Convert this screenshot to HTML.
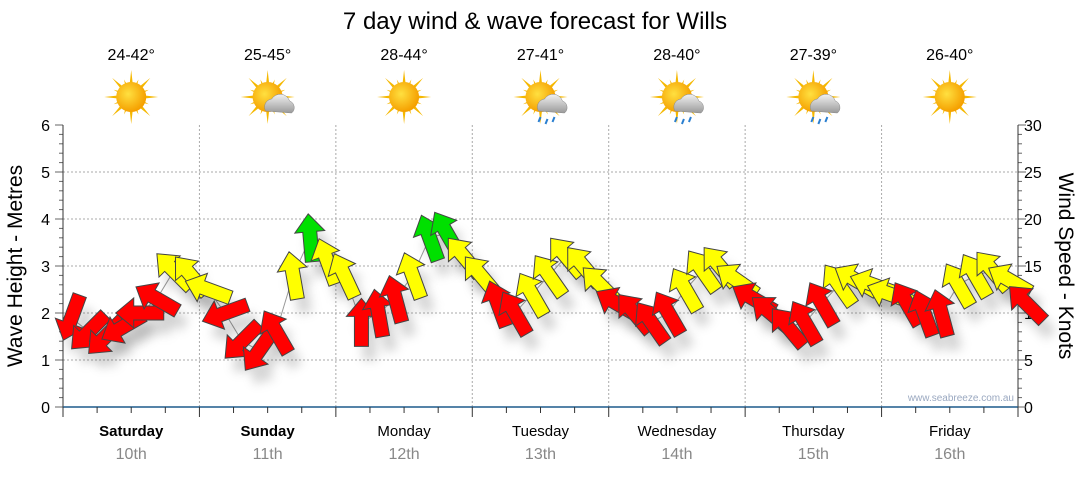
<!DOCTYPE html>
<html><head><meta charset="utf-8"><style>
body{margin:0;background:#fff;font-family:"Liberation Sans","DejaVu Sans",sans-serif;}
svg text{font-family:"Liberation Sans","DejaVu Sans",sans-serif;}
</style></head><body>
<svg id="chart" width="1080" height="475" viewBox="0 0 1080 475" xmlns="http://www.w3.org/2000/svg">
<defs>
<filter id="blur" x="-50%" y="-50%" width="200%" height="200%"><feGaussianBlur stdDeviation="5"/></filter>
<radialGradient id="sunG" cx="0.4" cy="0.4" r="0.6"><stop offset="0" stop-color="#ffe040"/><stop offset="1" stop-color="#f5a000"/></radialGradient>
<linearGradient id="cloudG" x1="0" y1="0" x2="0" y2="1"><stop offset="0" stop-color="#f2f2f2"/><stop offset="1" stop-color="#9a9a9a"/></linearGradient>
</defs>
<text x="535" y="29" font-size="24" text-anchor="middle" fill="#000">7 day wind &amp; wave forecast for Wills</text>
<g id="grid"></g>
<g id="icons"></g>
<g id="axes"></g>
<g id="marks"></g>
<text transform="translate(22,266) rotate(-90)" font-size="21" text-anchor="middle">Wave Height - Metres</text>
<text transform="translate(1059,266) rotate(90)" font-size="21" text-anchor="middle">Wind Speed - Knots</text>
<text x="1014" y="401" font-size="10" text-anchor="end" fill="#9aa8c0">www.seabreeze.com.au</text>
</svg>
<script>
const dayNames=["Saturday","Sunday","Monday","Tuesday","Wednesday","Thursday","Friday"];
const dayDates=["10th","11th","12th","13th","14th","15th","16th"];
const temps=["24-42°","25-45°","28-44°","27-41°","28-40°","27-39°","26-40°"];
const icons=["sun","suncloud","sun","rain","rain","rain","sun"];
const leftTicks=[0,1,2,3,4,5,6];
const rightTicks=[0,5,10,15,20,25,30];
const windSpeed=[9.5,8,7.5,8.5,10,11.5,14.5,14, 12.5,10,7,6,8,14,18,15.5, 14,9,10,11.5,14,18,18.5,16, 14,11,10,12,14,16,15,13, 11,10,9,10,12.5,14.5,15,13.5, 11.5,10,8.5,9,11,13,13.5,13, 12,11,10,10,13,14,14.5,13.5,11];
const windDir=[200,225,225,240,270,300,315,320, 290,250,225,215,330,350,355,340, 335,0,350,345,340,340,330,320, 320,340,330,330,325,320,320,315, 300,320,325,330,330,325,320,305, 300,310,320,330,330,325,300,290, 290,330,340,345,330,330,320,300,315];
const NS="http://www.w3.org/2000/svg";
const X0=63,X1=1018,Y0=407,Y1=125;
const xH=h=>X0+h*(X1-X0)/168;
const yM=m=>Y0-m*(Y0-Y1)/6;
const yK=k=>Y0-k*(Y0-Y1)/30;
function mk(tag,attrs,parent){const e=document.createElementNS(NS,tag);for(const k in attrs)e.setAttribute(k,attrs[k]);parent.appendChild(e);return e;}
const grid=document.getElementById('grid'),axes=document.getElementById('axes'),marks=document.getElementById('marks'),ic=document.getElementById('icons');
leftTicks.forEach(t=>{if(t>0&&t<6){const l=mk('line',{x1:X0,x2:X1,y1:yM(t),y2:yM(t),stroke:'#aaa','stroke-dasharray':'2,2'},grid);}
 const tx=mk('text',{x:50,y:yM(t)+6,'font-size':16,'text-anchor':'end'},axes);tx.textContent=t;});
for(let m=0;m<=30;m++){const y=yM(m*0.2);mk('line',{x1:m%5?X0-4:X0-8,x2:X0,y1:y,y2:y,stroke:'#666'},axes);}
rightTicks.forEach(t=>{const tx=mk('text',{x:1024,y:yK(t)+6,'font-size':16},axes);tx.textContent=t;});
for(let k=0;k<=30;k++){const y=yK(k);mk('line',{x1:X1,x2:k%5?X1+4:X1+8,y1:y,y2:y,stroke:'#666'},axes);}
mk('line',{x1:X0,x2:X0,y1:Y1,y2:Y0,stroke:'#333'},axes);
mk('line',{x1:X1,x2:X1,y1:Y1,y2:Y0,stroke:'#333'},axes);
mk('line',{x1:X0,x2:X1,y1:Y0,y2:Y0,stroke:'#1d5a8c','stroke-width':1.5},axes);
for(let h=0;h<=168;h+=6){const x=xH(h);mk('line',{x1:x,x2:x,y1:Y0,y2:h%24?Y0+6:Y0+10,stroke:'#333'},axes);
 if(h%24==0&&h>0&&h<168){const l=mk('line',{x1:x,x2:x,y1:Y1,y2:Y0,stroke:'#aaa','stroke-dasharray':'2,2'},grid);}}
dayNames.forEach((d,i)=>{const cx=xH(i*24+12);
 const a=mk('text',{x:cx,y:436,'font-size':15,'text-anchor':'middle','font-weight':i<2?'bold':'normal'},axes);a.textContent=d;
 const b=mk('text',{x:cx,y:459,'font-size':16,'text-anchor':'middle',fill:'#888'},axes);b.textContent=dayDates[i];
 const t=mk('text',{x:cx,y:60,'font-size':16,'text-anchor':'middle'},ic);t.textContent=temps[i];
 const g=mk('g',{transform:`translate(${cx},${97})`},ic);
 for(let r=0;r<16;r++){const L=r%2?19:27;mk('polygon',{points:`-3,0 0,-${L} 3,0`,fill:'#f5b800',transform:`rotate(${r*22.5})`},g);}
 mk('circle',{r:15,fill:'url(#sunG)'},g);
 if(icons[i]!='sun'){mk('path',{d:'M-2,14 a8,8 0 0 1 6,-12 a10,10 0 0 1 18,2 a7,7 0 0 1 2,12 z',fill:'url(#cloudG)',stroke:'#888','stroke-width':0.5},g);}
 if(icons[i]=='rain'){[[0,20],[7,22],[14,20]].forEach(p=>mk('path',{d:`M${p[0]},${p[1]} l-2,5`,stroke:'#2a7fd0','stroke-width':2},g));}
});
const pts=windSpeed.map((s,i)=>[xH(i*3+1.5),yK(s)]);
const pl=mk('polyline',{points:pts.map(p=>p.join(',')).join(' '),fill:'none',stroke:'#999','stroke-width':1},marks);

const shape="0,-24 15,-6 7,-6 7,24 -7,24 -7,-6 -15,-6";
windSpeed.forEach((s,i)=>{const [x,y]=pts[i];
 const sh=mk('polygon',{points:shape,fill:'rgba(0,0,0,0.16)',filter:'url(#blur)',transform:`translate(${x+8},${y+14}) rotate(${windDir[i]})`},marks);
 });
windSpeed.forEach((s,i)=>{const [x,y]=pts[i];
 const col=s>=18?'#00e000':(s>=12?'#ffff00':'#ff0000');
 const ar=mk('polygon',{points:shape,fill:col,stroke:'#444','stroke-width':1,transform:`translate(${x},${y}) rotate(${windDir[i]})`},marks);
 });
</script>
</body></html>
